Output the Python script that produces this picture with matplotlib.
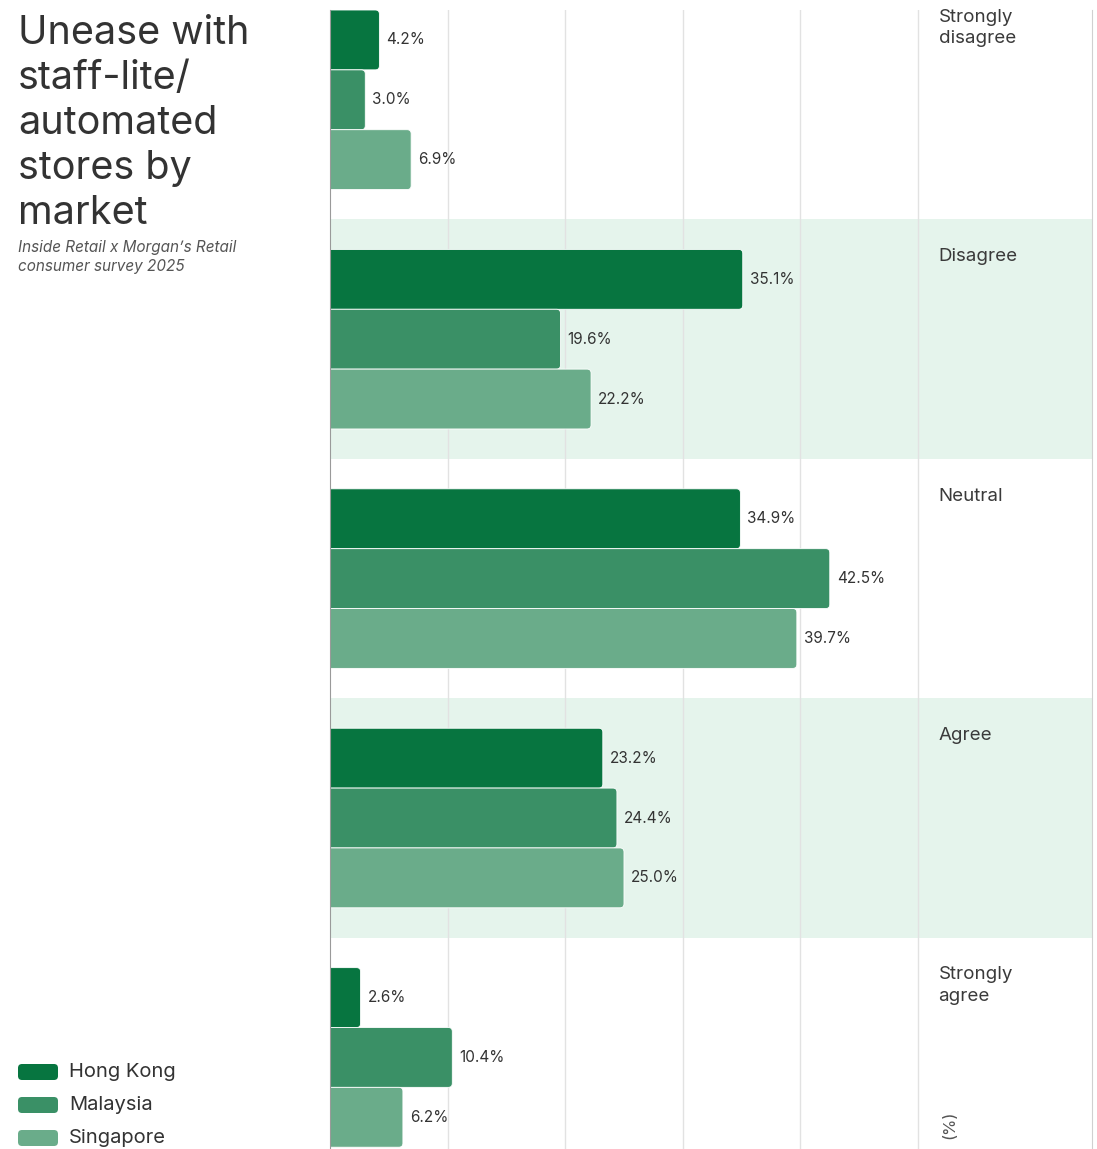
import matplotlib as mpl
mpl.use('Agg')
import matplotlib.pyplot as plt
from matplotlib.patches import FancyBboxPatch

plt.rcParams['font.family'] = ['Inter', 'DejaVu Sans']

categories = ['Strongly\ndisagree', 'Disagree', 'Neutral', 'Agree', 'Strongly\nagree']
markets = ['Hong Kong', 'Malaysia', 'Singapore']
hong_kong = [4.2, 35.1, 34.9, 23.2, 2.6]
malaysia = [3.0, 19.6, 42.5, 24.4, 10.4]
singapore = [6.9, 22.2, 39.7, 25.0, 6.2]
colors = ['#077540', '#3a9066', '#6aac8a']

W, H = 1097, 1149
fig = plt.figure(figsize=(W / 100, H / 100), dpi=100)
ax = fig.add_axes([330 / W, 0, (1092 - 330) / W, (H - 10) / H])

xmax = 64.8
ybot = 19.53
ax.set_xlim(0, xmax)
ax.set_ylim(ybot, 0.5)

# px per data unit, used to keep the corner rounding circular
px_x = (1092 - 330) / xmax
px_y = (H - 10) / (ybot - 0.5)

for k in (1, 3):
	ax.axhspan(4 * k, 4 * k + 4, color='#e5f4ec', lw=0, zorder=0)
for g in range(10, 60, 10):
	ax.axvline(g, color='#e2e2e2', lw=1, zorder=1)

series = [hong_kong, malaysia, singapore]
r = 4 / px_x
for k in range(len(categories)):
	for j, vals in enumerate(series):
		v = vals[k]
		y0 = 4 * k + 0.5 + j
		box = FancyBboxPatch((-2, y0), v + 2, 1,
			boxstyle='round,pad=0,rounding_size=%f' % r,
			mutation_aspect=px_x / px_y,
			fc=colors[j], ec='white', lw=0.6, zorder=2)
		ax.add_patch(box)
		ax.text(v + 0.6, y0 + 0.5, '%.1f%%' % v, va='center', ha='left',
			fontsize=11, color='#333333', zorder=3)
	ax.text(51.75, 4 * k + 0.48, categories[k], va='top', ha='left',
		fontsize=13.5, color='#3a3a3a', linespacing=1.32, zorder=3)

ax.text(52.7, 19.13, '(%)', rotation=90, va='center', ha='center',
	fontsize=12, color='#555555')

ax.set_xticks([])
ax.set_yticks([])
for s in ('top', 'bottom'):
	ax.spines[s].set_visible(False)
ax.spines['left'].set_color('#9a9a9a')
ax.spines['right'].set_color('#d0d0d0')

fig.text(18 / W, 1 - 15 / H, 'Unease with\nstaff-lite/\nautomated\nstores by\nmarket',
	va='top', ha='left', fontsize=28.5, color='#333333', linespacing=1.28)
fig.text(18 / W, 1 - 240 / H, 'Inside Retail x Morgan\u2019s Retail\nconsumer survey 2025',
	va='top', ha='left', fontsize=11, style='italic', color='#555555', linespacing=1.3)

legend_y = [1072, 1105, 1138]
for name, c, yy in zip(markets, colors, legend_y):
	p = FancyBboxPatch((18 / W, 1 - (yy + 8) / H), 40 / W, 16 / H,
		boxstyle='round,pad=0,rounding_size=%f' % (4 / W),
		mutation_aspect=W / H, fc=c, ec='none', transform=fig.transFigure)
	fig.patches.append(p)
	fig.text(69 / W, 1 - yy / H, name, va='center', ha='left',
		fontsize=14.5, color='#333333')

fig.savefig('out.png', dpi=100, facecolor='white')
